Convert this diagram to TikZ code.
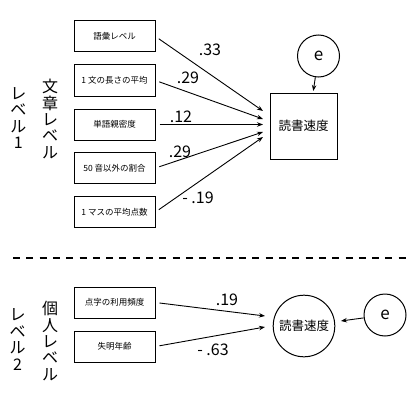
\documentclass[tikz,border=0pt]{standalone}
\usepackage{fontspec}
\setmainfont{Noto Sans CJK JP}
\usetikzlibrary{arrows.meta,calc,positioning}
\tikzset{
  varbox/.style={draw,line width=1pt,minimum width=81pt,minimum height=31pt,inner sep=1pt,font=\fontsize{8.5}{10}\selectfont},
  outbox/.style={draw,line width=1pt,minimum width=67pt,minimum height=66pt,inner sep=1pt,font=\fontsize{12.5}{14}\selectfont},
  outcirc/.style={circle,draw,line width=1pt,minimum size=61.6pt,inner sep=0pt,font=\fontsize{12.5}{14}\selectfont},
  errcirc/.style={circle,draw,line width=1pt,minimum size=42pt,inner sep=0pt,font=\fontsize{17}{18}\selectfont},
  edge/.style={-{Stealth[length=6pt,width=4.5pt]},line width=0.9pt,shorten <=4pt},
  coef/.style={inner sep=0pt,font=\fontsize{16}{18}\selectfont},
  levtxt/.style={align=center,inner sep=0pt,font=\fontsize{16}{16.4}\selectfont},
  sepline/.style={line width=1.2pt,dash pattern=on 7pt off 6.3pt}
}
\begin{document}
\begin{tikzpicture}[x=1pt,y=-1pt]
\useasboundingbox (0,0) rectangle (420,420);
% level 1
\node[levtxt] (lev1) at (18.3,118) {レ\\ベ\\ル\\1};
\node[levtxt] (txt1) at (50,119) {文\\章\\レ\\ベ\\ル};
\node[varbox] (v1) at (114.5,36.5) {語彙レベル};
\node[varbox] (v2) at (114.5,80.5) {1 文の長さの平均};
\node[varbox] (v3) at (114.5,124.5) {単語親密度};
\node[varbox] (v4) at (114.5,168) {50 音以外の割合};
\node[varbox] (v5) at (114.5,212) {1 マスの平均点数};
\node[outbox] (sq) at (303.5,126) {読書速度};
\node[errcirc] (e1) at (318.5,56) {e};
\coordinate (t0) at (313.3,91);
\coordinate (t1) at (263,111);
\coordinate (t2) at (263,119);
\coordinate (t3) at (263,124.5);
\coordinate (t4) at (263,132);
\coordinate (t5) at (263,137);
\draw[edge] (v1.east) -- (t1);
\draw[edge] (v2.east) -- (t2);
\draw[edge] (v3.east) -- (t3);
\draw[edge] (v4.east) -- (t4);
\draw[edge] (v5.east) -- (t5);
\draw[edge,shorten <=0pt] (e1) -- (t0);
\node[coef] at (210,50) {.33};
\node[coef] at (188,78) {.29};
\node[coef] at (181,116.5) {.12};
\node[coef] at (180,151.5) {.29};
\node[coef] at (198,197.5) {- .19};
% separator
\coordinate (sepL) at (13,258);
\coordinate (sepR) at (410,258);
\draw[sepline] (sepL) -- (sepR);
% level 2
\node[levtxt] (lev2) at (17.5,339.5) {レ\\ベ\\ル\\2};
\node[levtxt] (txt2) at (50,341) {個\\人\\レ\\ベ\\ル};
\node[varbox] (u1) at (114.5,302.5) {点字の利用頻度};
\node[varbox] (u2) at (114.5,346.5) {失明年齢};
\node[outcirc] (sq2) at (304,326) {読書速度};
\node[errcirc] (e2) at (385,315) {e};
\coordinate (s1) at (265,316);
\coordinate (s2) at (265,327);
\draw[edge] (u1.east) -- (s1);
\draw[edge] (u2.east) -- (s2);
\draw[edge,shorten <=0pt,shorten >=6pt] (e2) -- (sq2);
\node[coef] at (227,300) {.19};
\node[coef] at (213,350) {- .63};
\end{tikzpicture}
\end{document}
